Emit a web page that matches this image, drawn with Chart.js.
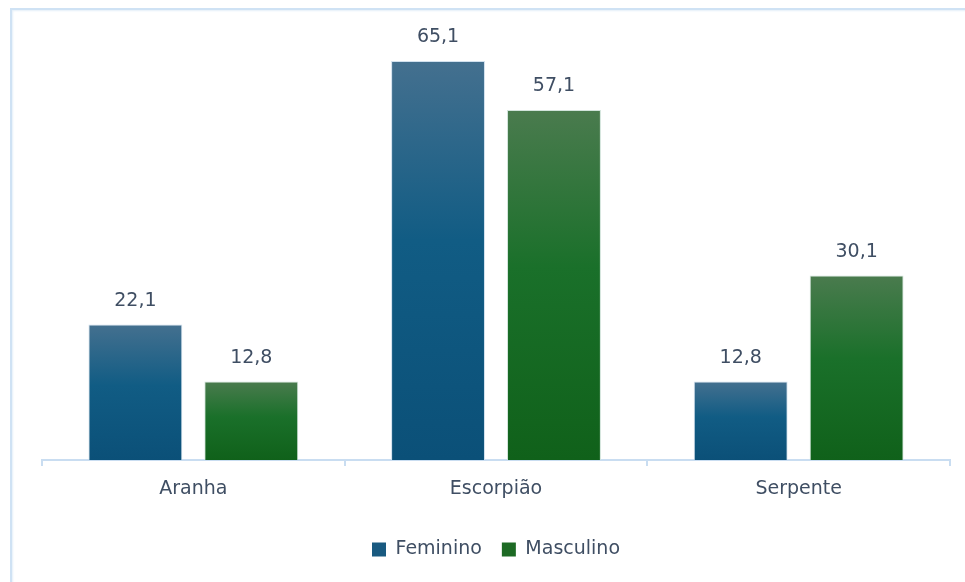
<!DOCTYPE html>
<html>
<head>
<meta charset="utf-8">
<script src="https://cdn.jsdelivr.net/npm/chart.js@4"></script>
<style>
    body { margin: 0; background: #ffffff; }
    #moldura {
        position: absolute; left: 10px; top: 8px;
        width: 1000px; height: 700px;
        border: 2px solid #cfe2f4;
        box-shadow: inset 1px 1px 2px #e4eff9;
    }
    #wrap { position: absolute; left: 0; top: 0; width: 965px; height: 582px; }
</style>
</head>
<body>
<div id="moldura"></div>
<div id="wrap"><canvas id="grafico" width="965" height="582"></canvas></div>
<script>
// ======================================
// DADOS
// ======================================

const categorias = ["Aranha", "Escorpião", "Serpente"];
const feminino = [22.1, 65.1, 12.8];
const masculino = [12.8, 57.1, 30.1];
const nomesSeries = ["Feminino", "Masculino"];

const corTexto = "#3f4e63";
const fonte = "'DejaVu Sans', sans-serif";

// gradiente por barra (claro em cima, escuro embaixo)
function gradiente(stops) {
    return function (ctx) {
        const chart = ctx.chart;
        const area = chart.chartArea;
        if (!area || ctx.type !== "data") return stops[2];
        const y = chart.scales.y;
        const topo = y.getPixelForValue(ctx.raw);
        const base = y.getPixelForValue(0);
        const g = chart.ctx.createLinearGradient(0, topo, 0, base);
        g.addColorStop(0, stops[0]);
        g.addColorStop(0.45, stops[1]);
        g.addColorStop(1, stops[2]);
        return g;
    };
}

// rótulos de valor acima das barras
const rotulos = {
    id: "rotulos",
    afterDatasetsDraw(chart) {
        const ctx = chart.ctx;
        ctx.save();
        ctx.font = "19px " + fonte;
        ctx.fillStyle = corTexto;
        ctx.textAlign = "center";
        ctx.textBaseline = "alphabetic";
        chart.data.datasets.forEach((ds, i) => {
            chart.getDatasetMeta(i).data.forEach((bar, j) => {
                const txt = ds.data[j].toFixed(1).replace(".", ",");
                ctx.fillText(txt, bar.x, bar.y - 19);
            });
        });
        ctx.restore();
    }
};

new Chart(document.getElementById("grafico"), {

    type: "bar",

    data: {
        labels: categorias,
        datasets: [{
            label: nomesSeries[0],
            data: feminino,
            backgroundColor: gradiente(["#44708f", "#115c84", "#0b5078"]),
            borderColor: "rgba(205,222,236,0.9)",
            borderWidth: 1,
            legendColor: "#195a80"
        }, {
            label: nomesSeries[1],
            data: masculino,
            backgroundColor: gradiente(["#4a7b4e", "#1a702a", "#10611a"]),
            borderColor: "rgba(205,225,215,0.9)",
            borderWidth: 1,
            legendColor: "#1d6a24"
        }]
    },

    options: {
        responsive: false,
        animation: false,
        events: [],
        categoryPercentage: 0.766,
        barPercentage: 0.81,
        layout: {
            padding: { left: 42, right: 15, top: 31, bottom: 13 }
        },
        scales: {
            x: {
                offset: true,
                grid: {
                    offset: true,
                    drawOnChartArea: false,
                    drawTicks: true,
                    tickLength: 6,
                    color: "#c9ddf1",
                    lineWidth: 2
                },
                border: { color: "#c9ddf1", width: 2 },
                ticks: {
                    color: corTexto,
                    padding: 12,
                    font: { family: fonte, size: 19 }
                },
                afterFit(scale) { scale.height = 60; }
            },
            y: {
                display: false,
                min: 0,
                max: 70
            }
        },
        plugins: {
            legend: {
                position: "bottom",
                labels: {
                    color: corTexto,
                    boxWidth: 14,
                    boxHeight: 14,
                    padding: 20,
                    font: { family: fonte, size: 19 },
                    generateLabels(chart) {
                        return chart.data.datasets.map((ds, i) => ({
                            text: ds.label,
                            fillStyle: ds.legendColor,
                            strokeStyle: ds.legendColor,
                            lineWidth: 0,
                            fontColor: corTexto,
                            datasetIndex: i,
                            hidden: false
                        }));
                    }
                }
            },
            tooltip: { enabled: false }
        }
    },

    plugins: [rotulos]

});
</script>
</body>
</html>
